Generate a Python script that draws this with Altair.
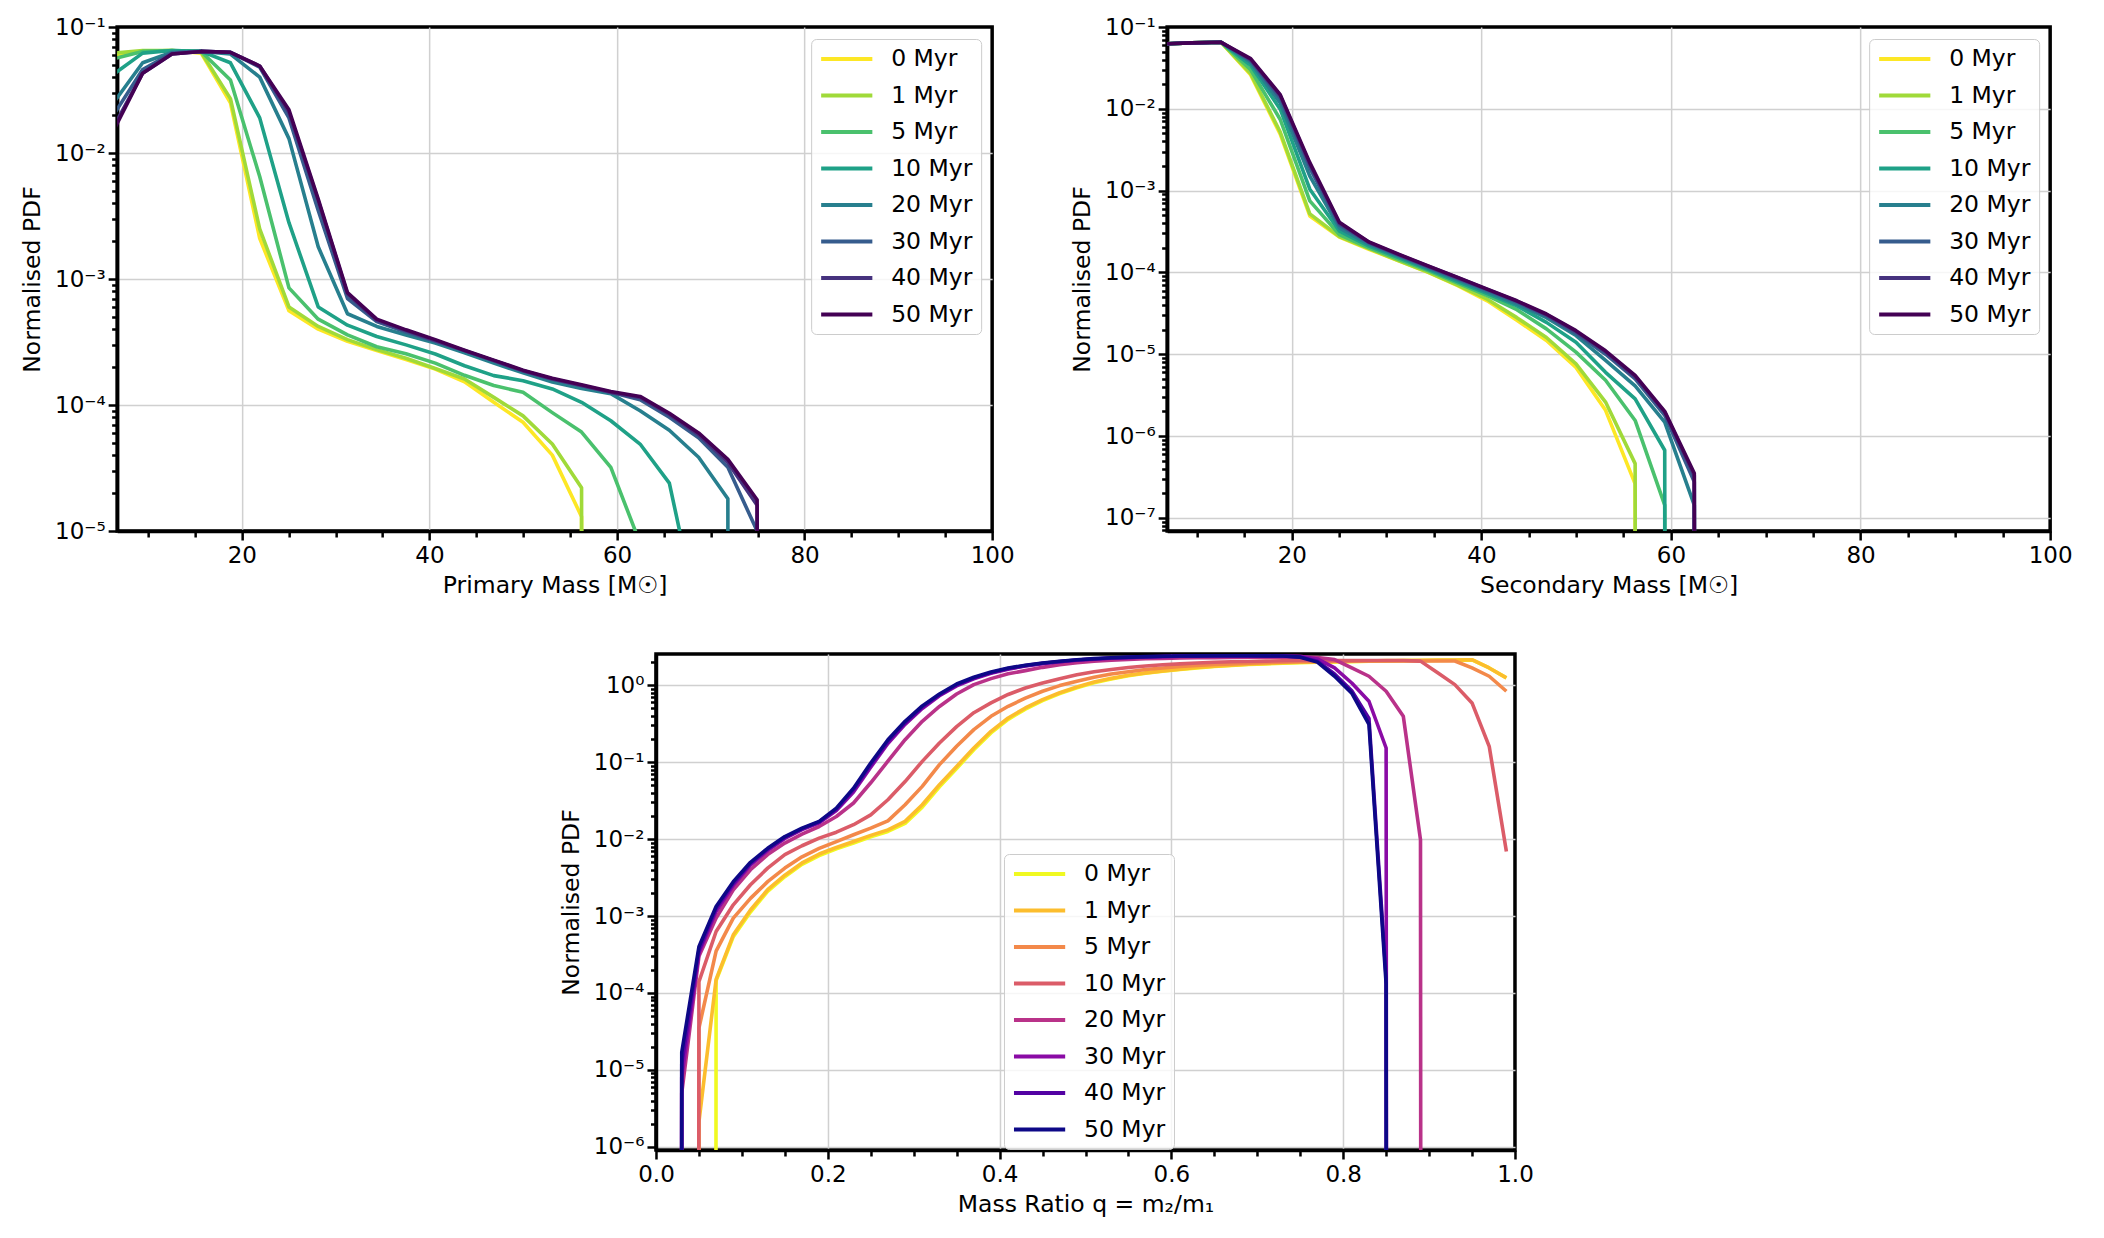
import altair as alt
import pandas as pd

FONT = "DejaVu Sans"

AGES = ["0 Myr", "1 Myr", "5 Myr", "10 Myr", "20 Myr", "30 Myr", "40 Myr", "50 Myr"]
VIRIDIS = ["#fde725", "#a0da39", "#4ac16d", "#1fa187", "#277f8e", "#365c8d", "#46327e", "#440154"]
PLASMA = ["#f0f921", "#fcbd2d", "#f3894a", "#db5c68", "#b93289", "#8a0ba5", "#5302a3", "#0d0887"]

# bin centres (solar masses)
MASS = [6.30, 9.42, 12.54, 15.66, 18.78, 21.90, 25.02, 28.14, 31.26, 34.38, 37.50,
        40.62, 43.74, 46.86, 49.98, 53.10, 56.22, 59.34, 62.46, 65.58, 68.70, 71.82,
        74.94, 78.06, 81.18, 84.30, 87.42, 90.54, 93.66, 96.78, 99.90]

# bin centres (mass ratio)
Q = [0.01, 0.03, 0.05, 0.07, 0.09, 0.11, 0.13, 0.15, 0.17, 0.19,
     0.21, 0.23, 0.25, 0.27, 0.29, 0.31, 0.33, 0.35, 0.37, 0.39,
     0.41, 0.43, 0.45, 0.47, 0.49, 0.51, 0.53, 0.55, 0.57, 0.59,
     0.61, 0.63, 0.65, 0.67, 0.69, 0.71, 0.73, 0.75, 0.77, 0.79,
     0.81, 0.83, 0.85, 0.87, 0.89, 0.91, 0.93, 0.95, 0.97, 0.99]

# ---- primary mass PDFs ----
primary_0 = [0.060, 0.064, 0.065, 0.062, 0.025, 0.0021, 5.6e-4, 4.0e-4, 3.2e-4, 2.7e-4, 2.3e-4,
             1.93e-4, 1.53e-4, 1.05e-4, 7.3e-5, 4.0e-5, 1.3e-5, 0, 0, 0, 0, 0,
             0, 0, 0, 0, 0, 0, 0, 0, 0]
primary_1 = [0.062, 0.065, 0.065, 0.063, 0.027, 0.0025, 6.0e-4, 4.2e-4, 3.3e-4, 2.75e-4, 2.35e-4,
             1.95e-4, 1.61e-4, 1.15e-4, 8.2e-5, 4.9e-5, 2.2e-5, 0, 0, 0, 0, 0,
             0, 0, 0, 0, 0, 0, 0, 0, 0]
primary_5 = [0.056, 0.064, 0.065, 0.064, 0.038, 0.0065, 8.5e-4, 4.8e-4, 3.6e-4, 2.9e-4, 2.55e-4,
             2.15e-4, 1.72e-4, 1.43e-4, 1.26e-4, 8.7e-5, 6.1e-5, 3.2e-5, 8e-6, 0, 0, 0,
             0, 0, 0, 0, 0, 0, 0, 0, 0]
primary_10 = [0.042, 0.062, 0.065, 0.064, 0.052, 0.019, 0.0028, 6.0e-4, 4.3e-4, 3.5e-4, 3.0e-4,
              2.54e-4, 2.05e-4, 1.71e-4, 1.56e-4, 1.34e-4, 1.05e-4, 7.5e-5, 4.9e-5, 2.4e-5, 2e-6, 0,
              0, 0, 0, 0, 0, 0, 0, 0, 0]
primary_20 = [0.025, 0.052, 0.063, 0.064, 0.061, 0.040, 0.013, 0.0018, 5.3e-4, 4.2e-4, 3.6e-4,
              3.1e-4, 2.6e-4, 2.15e-4, 1.8e-4, 1.52e-4, 1.35e-4, 1.23e-4, 9.0e-5, 6.3e-5, 3.85e-5, 1.8e-5,
              0, 0, 0, 0, 0, 0, 0, 0, 0]
primary_30 = [0.020, 0.046, 0.062, 0.064, 0.063, 0.048, 0.019, 0.0035, 7.0e-4, 4.6e-4, 3.8e-4,
              3.2e-4, 2.7e-4, 2.25e-4, 1.87e-4, 1.61e-4, 1.43e-4, 1.26e-4, 1.1e-4, 8.0e-5, 5.5e-5, 3.2e-5,
              1.0e-5, 0, 0, 0, 0, 0, 0, 0, 0]
primary_40 = [0.016, 0.043, 0.061, 0.064, 0.063, 0.049, 0.021, 0.0042, 7.6e-4, 4.7e-4, 3.9e-4,
              3.25e-4, 2.7e-4, 2.25e-4, 1.87e-4, 1.61e-4, 1.43e-4, 1.26e-4, 1.15e-4, 8.4e-5, 5.8e-5, 3.5e-5,
              1.6e-5, 0, 0, 0, 0, 0, 0, 0, 0]
primary_50 = [0.015, 0.043, 0.061, 0.064, 0.063, 0.049, 0.022, 0.0043, 7.8e-4, 4.8e-4, 3.95e-4,
              3.3e-4, 2.72e-4, 2.27e-4, 1.89e-4, 1.63e-4, 1.45e-4, 1.28e-4, 1.17e-4, 8.6e-5, 6.0e-5, 3.7e-5,
              1.77e-5, 0, 0, 0, 0, 0, 0, 0, 0]

# ---- secondary mass PDFs ----
secondary_0 = [0.062, 0.064, 0.065, 0.026, 0.0049, 4.9e-4, 2.7e-4, 1.92e-4, 1.39e-4, 1.0e-4, 6.9e-5,
               4.5e-5, 2.6e-5, 1.47e-5, 6.9e-6, 2.06e-6, 2.6e-7, 0, 0, 0, 0, 0,
               0, 0, 0, 0, 0, 0, 0, 0, 0]
secondary_1 = [0.062, 0.064, 0.065, 0.027, 0.0052, 5.2e-4, 2.75e-4, 1.95e-4, 1.4e-4, 1.01e-4, 7.0e-5,
               4.7e-5, 2.8e-5, 1.6e-5, 7.6e-6, 2.6e-6, 4.6e-7, 0, 0, 0, 0, 0,
               0, 0, 0, 0, 0, 0, 0, 0, 0]
secondary_5 = [0.062, 0.064, 0.065, 0.030, 0.0074, 7.5e-4, 2.9e-4, 2.0e-4, 1.45e-4, 1.05e-4, 7.4e-5,
               5.2e-5, 3.5e-5, 2.04e-5, 1.06e-5, 4.8e-6, 1.55e-6, 1.43e-7, 0, 0, 0, 0,
               0, 0, 0, 0, 0, 0, 0, 0, 0]
secondary_10 = [0.062, 0.064, 0.065, 0.034, 0.0099, 1.04e-3, 3.2e-4, 2.1e-4, 1.52e-4, 1.09e-4, 7.7e-5,
                5.5e-5, 3.9e-5, 2.45e-5, 1.4e-5, 6.0e-6, 2.85e-6, 6.7e-7, 0, 0, 0, 0,
                0, 0, 0, 0, 0, 0, 0, 0, 0]
secondary_20 = [0.062, 0.064, 0.065, 0.037, 0.0118, 1.5e-3, 3.5e-4, 2.2e-4, 1.58e-4, 1.13e-4, 8.1e-5,
                5.8e-5, 4.1e-5, 2.8e-5, 1.69e-5, 8.4e-6, 4.1e-6, 1.48e-6, 1.43e-7, 0, 0, 0,
                0, 0, 0, 0, 0, 0, 0, 0, 0]
secondary_30 = [0.062, 0.064, 0.065, 0.039, 0.0135, 1.9e-3, 3.8e-4, 2.3e-4, 1.63e-4, 1.17e-4, 8.4e-5,
                6.1e-5, 4.35e-5, 2.95e-5, 1.8e-5, 1.0e-5, 5.0e-6, 1.79e-6, 2.75e-7, 0, 0, 0,
                0, 0, 0, 0, 0, 0, 0, 0, 0]
secondary_40 = [0.062, 0.064, 0.065, 0.040, 0.0145, 2.1e-3, 4.0e-4, 2.33e-4, 1.65e-4, 1.19e-4, 8.6e-5,
                6.2e-5, 4.45e-5, 3.05e-5, 1.9e-5, 1.07e-5, 5.3e-6, 1.95e-6, 3.3e-7, 0, 0, 0,
                0, 0, 0, 0, 0, 0, 0, 0, 0]
secondary_50 = [0.062, 0.064, 0.065, 0.041, 0.0149, 2.2e-3, 4.1e-4, 2.36e-4, 1.67e-4, 1.2e-4, 8.7e-5,
                6.25e-5, 4.5e-5, 3.1e-5, 1.94e-5, 1.1e-5, 5.5e-6, 2.0e-6, 3.5e-7, 0, 0, 0,
                0, 0, 0, 0, 0, 0, 0, 0, 0]

# ---- mass ratio PDFs ----
ratio_0 = [0, 0, 0, 1.45e-4, 5.4e-4, 1.13e-3, 2.1e-3, 3.25e-3, 4.7e-3, 6.1e-3,
           7.5e-3, 8.9e-3, 0.0107, 0.0126, 0.016, 0.026, 0.048, 0.083, 0.145, 0.24,
           0.36, 0.49, 0.63, 0.78, 0.93, 1.08, 1.21, 1.33, 1.43, 1.52,
           1.6, 1.68, 1.75, 1.81, 1.86, 1.9, 1.94, 1.97, 1.99, 2.01,
           2.03, 2.05, 2.07, 2.09, 2.1, 2.11, 2.12, 2.14, 1.68, 1.25]
ratio_1 = [0, 0, 2.1e-6, 1.5e-4, 5.7e-4, 1.2e-3, 2.2e-3, 3.4e-3, 4.9e-3, 6.4e-3,
           7.8e-3, 9.3e-3, 0.0112, 0.0132, 0.017, 0.028, 0.051, 0.088, 0.153, 0.252,
           0.376, 0.507, 0.65, 0.8, 0.95, 1.1, 1.23, 1.35, 1.45, 1.54,
           1.62, 1.7, 1.77, 1.83, 1.88, 1.92, 1.96, 1.99, 2.01, 2.03,
           2.05, 2.07, 2.09, 2.1, 2.11, 2.12, 2.13, 2.15, 1.68, 1.25]
ratio_5 = [0, 0, 3.5e-5, 3.5e-4, 9.4e-4, 1.7e-3, 2.8e-3, 4.2e-3, 5.9e-3, 7.6e-3,
           9.3e-3, 0.0114, 0.0139, 0.0173, 0.028, 0.0485, 0.093, 0.161, 0.265, 0.395,
           0.533, 0.68, 0.836, 0.99, 1.13, 1.27, 1.4, 1.5, 1.6, 1.68,
           1.75, 1.81, 1.86, 1.9, 1.94, 1.97, 2.0, 2.02, 2.04, 2.05,
           2.06, 2.07, 2.07, 2.07, 2.07, 2.07, 2.07, 1.68, 1.31, 0.836]
ratio_10 = [0, 0, 1.4e-4, 6.3e-4, 1.4e-3, 2.55e-3, 4.2e-3, 6.3e-3, 8.2e-3, 0.0103,
            0.0123, 0.0154, 0.0207, 0.0325, 0.056, 0.1025, 0.178, 0.29, 0.44, 0.59,
            0.76, 0.92, 1.07, 1.22, 1.37, 1.5, 1.6, 1.7, 1.78, 1.85,
            1.9, 1.95, 1.99, 2.02, 2.04, 2.06, 2.08, 2.1, 2.1, 2.1,
            2.1, 2.1, 2.1, 2.1, 2.06, 1.45, 1.02, 0.59, 0.161, 6.9e-3]
ratio_20 = [0, 5e-6, 3.0e-4, 9.4e-4, 2.2e-3, 4.0e-3, 6.3e-3, 8.9e-3, 0.0116, 0.0146,
            0.0197, 0.0295, 0.054, 0.103, 0.196, 0.34, 0.53, 0.77, 1.02, 1.22,
            1.41, 1.55, 1.71, 1.85, 1.97, 2.06, 2.12, 2.17, 2.21, 2.24,
            2.26, 2.28, 2.29, 2.3, 2.31, 2.32, 2.32, 2.32, 2.3, 2.16,
            1.68, 1.31, 0.836, 0.395, 9.8e-3, 0, 0, 0, 0, 0]
ratio_30 = [0, 8e-6, 3.3e-4, 1.15e-3, 2.5e-3, 4.6e-3, 7.1e-3, 0.0102, 0.0133, 0.0163,
            0.0235, 0.041, 0.086, 0.175, 0.31, 0.5, 0.73, 0.98, 1.21, 1.43,
            1.62, 1.78, 1.91, 2.02, 2.12, 2.19, 2.25, 2.29, 2.33, 2.36,
            2.38, 2.39, 2.4, 2.4, 2.4, 2.4, 2.4, 2.38, 2.2, 1.68,
            1.07, 0.62, 0.153, 0, 0, 0, 0, 0, 0, 0]
ratio_40 = [0, 1.2e-5, 3.6e-4, 1.25e-3, 2.65e-3, 4.8e-3, 7.4e-3, 0.0105, 0.0136, 0.0167,
            0.0245, 0.044, 0.092, 0.185, 0.325, 0.52, 0.75, 1.01, 1.24, 1.46,
            1.65, 1.8, 1.93, 2.03, 2.13, 2.2, 2.26, 2.3, 2.34, 2.37,
            2.39, 2.4, 2.41, 2.41, 2.41, 2.41, 2.4, 2.34, 2.05, 1.4,
            0.85, 0.37, 1.6e-4, 0, 0, 0, 0, 0, 0, 0]
ratio_50 = [0, 1.7e-5, 4.0e-4, 1.33e-3, 2.8e-3, 5.0e-3, 7.6e-3, 0.0108, 0.0139, 0.017,
            0.0253, 0.046, 0.0975, 0.196, 0.34, 0.54, 0.77, 1.04, 1.27, 1.49,
            1.68, 1.82, 1.95, 2.05, 2.15, 2.22, 2.28, 2.32, 2.36, 2.38,
            2.4, 2.41, 2.42, 2.42, 2.42, 2.41, 2.4, 2.32, 2.0, 1.31,
            0.79, 0.31, 1.3e-4, 0, 0, 0, 0, 0, 0, 0]

PRIMARY = [primary_0, primary_1, primary_5, primary_10, primary_20, primary_30, primary_40, primary_50]
SECONDARY = [secondary_0, secondary_1, secondary_5, secondary_10, secondary_20, secondary_30,
             secondary_40, secondary_50]
RATIO = [ratio_0, ratio_1, ratio_5, ratio_10, ratio_20, ratio_30, ratio_40, ratio_50]


def long_table(xs, series):
    rows = []
    for k, (age, vals) in enumerate(zip(AGES, series)):
        for x, v in zip(xs, vals):
            # like matplotlib's log axis: non-positive values are clipped to a tiny number
            rows.append({"x": x, "pdf": v if v > 0 else 1e-300, "age": age, "k": k})
    return pd.DataFrame(rows)


MAJ_LOG = "abs(log(datum.value)/LN10 - round(log(datum.value)/LN10)) < 0.001"
EXP = "round(log(datum.value)/LN10)"
SUP = "['⁰','¹','²','³','⁴','⁵','⁶','⁷','⁸','⁹']"
LOG_LABEL = f"{MAJ_LOG} ? '10' + ({EXP} < 0 ? '⁻' : '') + {SUP}[abs({EXP})] : ''"


def log_values(lo, hi):
    vals = []
    for e in range(-9, 2):
        for m in range(1, 10):
            v = float(f"{m}e{e}")
            if lo * 0.9999 <= v <= hi * 1.0001:
                vals.append(v)
    return vals


def y_axis(lo, hi):
    # grid only at the decades strictly inside the frame (spines stay black on top)
    grid_test = f"({MAJ_LOG}) && datum.value < {hi * 0.999} && datum.value > {lo * 1.001}"
    return alt.Axis(values=log_values(lo, hi), labelExpr=LOG_LABEL,
                    tickSize={"condition": {"test": MAJ_LOG, "value": 9}, "value": 5.5},
                    gridOpacity={"condition": {"test": grid_test, "value": 1}, "value": 0},
                    title="Normalised PDF", titlePadding=10, labelPadding=3,
                    labelOverlap=False, labelFlush=False)


MAJ_MASS = "datum.value % 20 == 0"


def mass_axis(title):
    grid_test = f"({MAJ_MASS}) && datum.value < 99.9"
    return alt.Axis(values=list(range(10, 101, 5)), labelExpr=f"{MAJ_MASS} ? datum.label : ''",
                    tickSize={"condition": {"test": MAJ_MASS, "value": 9}, "value": 6},
                    gridOpacity={"condition": {"test": grid_test, "value": 1}, "value": 0},
                    title=title, labelPadding=4, titlePadding=6,
                    labelOverlap=False, labelFlush=False)


MAJ_Q = "abs(datum.value*5 - round(datum.value*5)) < 0.001"
q_axis = alt.Axis(values=[round(0.05 * i, 2) for i in range(21)],
                  labelExpr=f"{MAJ_Q} ? format(datum.value, '.1f') : ''",
                  tickSize={"condition": {"test": MAJ_Q, "value": 9}, "value": 6},
                  gridOpacity={"condition": {"test": f"({MAJ_Q}) && datum.value > 0.001 && datum.value < 0.999",
                                             "value": 1}, "value": 0},
                  title="Mass Ratio q = m₂/m₁", labelPadding=4, titlePadding=6,
                  labelOverlap=False, labelFlush=False)


def legend(x, y):
    return alt.Legend(title=None, orient="none", legendX=x, legendY=y,
                      symbolType="M-1,0H4.12", symbolSize=400, symbolStrokeWidth=4,
                      labelFontSize=23.5, labelFont=FONT, labelColor="black",
                      labelOffset=48, rowPadding=12.5, padding=8,
                      fillColor="rgba(255,255,255,0.8)", strokeColor="#cccccc",
                      cornerRadius=5)


def panel(df, xscale, yscale, xaxis, yaxis, colors, leg, w, h):
    return alt.Chart(df).mark_line(clip=True, strokeWidth=3.6, strokeJoin="round").encode(
        x=alt.X("x:Q", scale=xscale, axis=xaxis),
        y=alt.Y("pdf:Q", scale=yscale, axis=yaxis),
        color=alt.Color("age:N", scale=alt.Scale(domain=AGES, range=colors), legend=leg),
        order=alt.Order("x:Q"),
    ).properties(width=w, height=h)


left = panel(long_table(MASS, PRIMARY),
             alt.Scale(domain=[6.7, 100], nice=False, zero=False),
             alt.Scale(type="log", domain=[1e-5, 1e-1], nice=False),
             mass_axis("Primary Mass [M☉]"), y_axis(1e-5, 1e-1), VIRIDIS,
             legend(694, 12), 875, 504)

right = panel(long_table(MASS, SECONDARY),
              alt.Scale(domain=[6.85, 100], nice=False, zero=False),
              alt.Scale(type="log", domain=[6.9e-8, 1e-1], nice=False),
              mass_axis("Secondary Mass [M☉]"), y_axis(6.9e-8, 1e-1), VIRIDIS,
              legend(702, 12), 883, 504)

bottom = panel(long_table(Q, RATIO),
               alt.Scale(domain=[0, 1], nice=False, zero=False),
               alt.Scale(type="log", domain=[9.1e-7, 2.55], nice=False),
               q_axis, y_axis(9.1e-7, 2.55), PLASMA,
               legend(348, 200), 859, 496)

top = alt.hconcat(left, right, spacing=52).resolve_scale(color="independent").resolve_legend(color="independent")

chart = alt.vconcat(top, bottom, spacing=50, center=True).resolve_scale(
    color="independent").resolve_legend(color="independent").properties(
    padding={"left": 10, "top": 6, "right": 5, "bottom": 5}, background="white"
).configure_view(stroke="black", strokeWidth=3.5, strokeOpacity=1).configure_axis(
    labelFont=FONT, labelFontSize=23, labelColor="black",
    titleFont=FONT, titleFontSize=23.5, titleFontWeight="normal", titleColor="black",
    domainColor="black", domainWidth=3.5, tickColor="black", tickWidth=2.5,
    gridColor="#d0d0d0", gridWidth=1.5,
)

chart.save("out.html", embed_options={"renderer": "svg", "actions": False})
